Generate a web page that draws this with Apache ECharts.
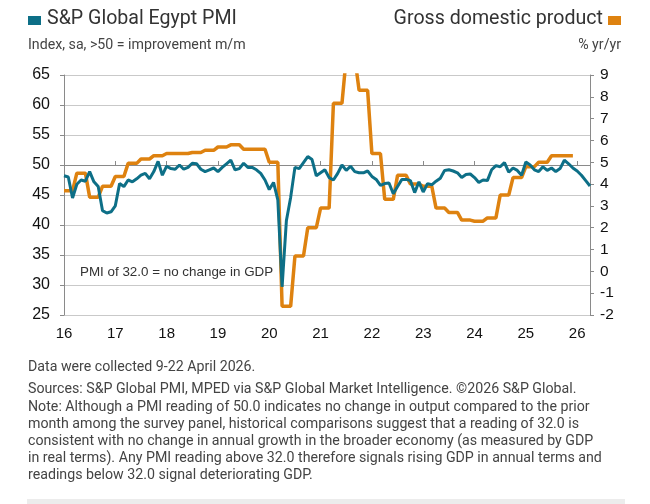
<!DOCTYPE html>
<html>
<head>
<meta charset="utf-8">
<script src="https://cdn.jsdelivr.net/npm/echarts@6/dist/echarts.min.js"></script>
<style>
html, body { margin: 0; padding: 0; background: #fff; }
#chart { width: 650px; height: 504px; }
</style>
</head>
<body>
<div id="chart"></div>
<script>
// monthly PMI, Jan 2016 .. Apr 2026
var pmi2016 = [48.2, 48.0, 44.5, 46.8, 47.5, 47.3, 48.9, 47.2, 46.4, 42.4, 42.0, 42.2];
var pmi2017 = [43.2, 46.9, 46.4, 47.5, 47.2, 47.7, 48.3, 48.6, 47.7, 48.9, 50.6, 48.3];
var pmi2018 = [49.8, 49.4, 49.3, 50.0, 49.3, 49.6, 50.3, 50.2, 49.3, 48.9, 49.2, 49.5];
var pmi2019 = [48.9, 49.6, 50.2, 50.8, 49.2, 49.4, 50.3, 49.6, 49.6, 49.2, 48.6, 47.5];
var pmi2020 = [45.9, 47.1, 44.2, 29.7, 40.7, 44.6, 49.6, 49.4, 50.4, 51.4, 50.9, 48.2];
var pmi2021 = [48.7, 49.2, 47.9, 47.5, 48.6, 50.0, 49.1, 49.8, 48.9, 48.7, 48.7, 49.0];
var pmi2022 = [48.1, 47.6, 46.6, 46.9, 47.0, 45.2, 46.4, 47.6, 47.6, 47.4, 45.4, 47.2];
var pmi2023 = [45.5, 46.9, 46.7, 47.3, 47.8, 49.1, 49.2, 49.0, 48.7, 47.9, 48.4, 48.5];
var pmi2024 = [47.9, 47.1, 47.5, 47.4, 49.2, 49.9, 49.7, 50.4, 48.8, 49.5, 49.1, 48.3];
var pmi2025 = [50.5, 50.0, 49.2, 48.9, 49.7, 49.1, 49.5, 48.9, 49.4, 50.8, 50.2, 49.5];
var pmi2026 = [49.0, 48.3, 47.4, 46.5];

// quarterly real GDP growth, % yr/yr, Q1 2016 .. Q4 2025
var gdpQuarterly = [
	3.7, 4.5, 3.4, 3.9,
	4.35, 4.95, 5.15, 5.3,
	5.4, 5.4, 5.45, 5.55,
	5.7, 5.8, 5.6, 5.6,
	5.0, -1.6, 0.7, 2.0,
	2.9, 7.7, 9.8, 8.3,
	5.4, 3.3, 4.4, 4.0,
	3.9, 2.9, 2.7, 2.35,
	2.3, 2.45, 3.5, 4.3,
	4.8, 5.0, 5.3, 5.3
];

var pmiTicks = [25, 30, 35, 40, 45, 50, 55, 60, 65];
var gdpTicks = [-2, -1, 0, 1, 2, 3, 4, 5, 6, 7, 8, 9];
var startYear = 2016;

var pmi = [].concat(pmi2016, pmi2017, pmi2018, pmi2019, pmi2020, pmi2021,
	pmi2022, pmi2023, pmi2024, pmi2025, pmi2026);

var months = [];
for (var i = 0; i < pmi.length; i++) {
	var y = startYear + Math.floor(i / 12);
	var m = i % 12 + 1;
	months.push(y + '-' + (m < 10 ? '0' + m : m));
}

// each quarter's figure is plotted against its three months
var gdp = [];
gdpQuarterly.forEach(function (v) { gdp.push(v, v, v); });
while (gdp.length < months.length) gdp.push(null);

var isJan = function (index) { return index % 12 === 0; };

var noteFont = '14.2px Roboto';

var chart = echarts.init(document.getElementById('chart'));

var option = {
	backgroundColor: '#fff',
	animation: false,
	textStyle: { fontFamily: 'Liberation Sans' },
	grid: { left: 64, right: 60, top: 75, bottom: 189 },
	xAxis: [{
		type: 'category',
		data: months,
		boundaryGap: false,
		axisLine: { show: false },
		axisTick: { show: false },
		splitLine: { show: false },
		axisLabel: {
			interval: isJan,
			margin: 11,
			fontSize: 15,
			color: '#111',
			formatter: function (v) { return v.slice(2, 4); }
		}
	}, {
		// the horizontal axis line sits at PMI 50
		type: 'category',
		data: months,
		boundaryGap: false,
		position: 'bottom',
		offset: -150,
		axisLine: { show: true, lineStyle: { color: '#8a8a8a', width: 1.2 } },
		axisTick: { show: true, interval: isJan, inside: true, length: 4, lineStyle: { color: '#8a8a8a' } },
		axisLabel: { show: false },
		splitLine: { show: false }
	}],
	yAxis: [{
		type: 'value',
		min: pmiTicks[0],
		max: pmiTicks[pmiTicks.length - 1],
		interval: 5,
		axisLine: { show: true, lineStyle: { color: '#8a8a8a' } },
		axisTick: { show: true, length: 4, lineStyle: { color: '#8a8a8a' } },
		splitLine: { show: true, lineStyle: { color: '#c9c9c9', width: 1 } },
		axisLabel: { fontSize: 16, color: '#111', margin: 14 }
	}, {
		type: 'value',
		min: gdpTicks[0],
		max: gdpTicks[gdpTicks.length - 1],
		interval: 1,
		axisLine: { show: true, lineStyle: { color: '#8a8a8a' } },
		axisTick: { show: true, length: 4, lineStyle: { color: '#8a8a8a' } },
		splitLine: { show: false },
		axisLabel: { fontSize: 15.5, color: '#111', margin: 10 }
	}],
	series: [{
		name: 'Gross domestic product',
		type: 'line',
		yAxisIndex: 1,
		data: gdp,
		symbol: 'none',
		clip: true,
		z: 2,
		lineStyle: { color: '#de8210', width: 3.5 }
	}, {
		name: 'S&P Global Egypt PMI',
		type: 'line',
		yAxisIndex: 0,
		data: pmi,
		symbol: 'none',
		z: 3,
		lineStyle: { color: '#0d6f87', width: 3 }
	}],
	graphic: [
		{ type: 'rect', shape: { x: 28, y: 16, width: 13, height: 9 }, style: { fill: '#0d6f87' } },
		{ type: 'text', left: 47, top: 9, style: { text: 'S&P Global Egypt PMI', font: '19.6px Roboto', fill: '#333' } },
		{ type: 'text', left: 28, top: 38, style: { text: 'Index, sa, >50 = improvement m/m', font: noteFont, fill: '#444' } },
		{ type: 'rect', shape: { x: 608, y: 16, width: 13, height: 9 }, style: { fill: '#de8210' } },
		{ type: 'text', right: 47, top: 9, style: { text: 'Gross domestic product', font: '19.6px Roboto', fill: '#333' } },
		{ type: 'text', right: 29, top: 38, style: { text: '% yr/yr', font: noteFont, fill: '#444' } },
		{ type: 'text', left: 80, top: 266, style: { text: 'PMI of 32.0 = no change in GDP', font: '13.4px "Liberation Sans"', fill: '#333' } },
		{ type: 'text', left: 28, top: 360, style: { text: 'Data were collected 9-22 April 2026.', font: noteFont, fill: '#444' } },
		{ type: 'text', left: 28, top: 382, style: { text: 'Sources: S&P Global PMI, MPED via S&P Global Market Intelligence. \u00a92026 S&P Global.', font: noteFont, fill: '#444' } },
		{ type: 'text', left: 28, top: 399, style: {
			text: 'Note: Although a PMI reading of 50.0 indicates no change in output compared to the prior\n' +
				'month among the survey panel, historical comparisons suggest that a reading of 32.0 is\n' +
				'consistent with no change in annual growth in the broader economy (as measured by GDP\n' +
				'in real terms). Any PMI reading above 32.0 therefore signals rising GDP in annual terms and\n' +
				'readings below 32.0 signal deteriorating GDP.',
			font: noteFont, fill: '#444', lineHeight: 17
		} },
		{ type: 'rect', shape: { x: 27, y: 499, width: 598, height: 5 }, style: { fill: '#ececec' } }
	]
};

chart.setOption(option);
</script>
</body>
</html>
